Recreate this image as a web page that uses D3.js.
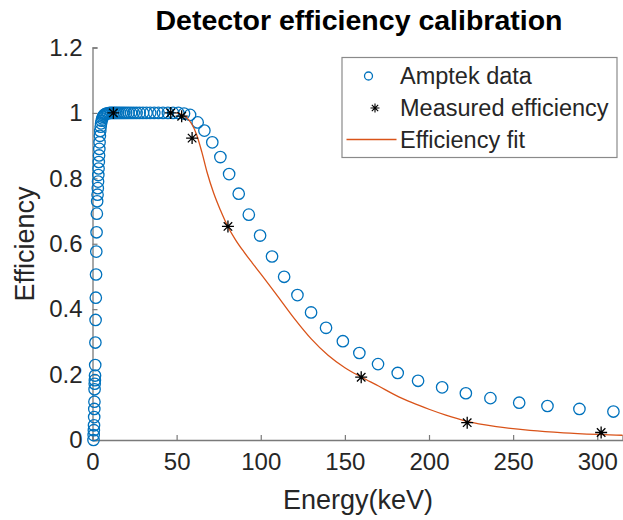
<!DOCTYPE html>
<html>
<head>
<meta charset="utf-8">
<script src="https://cdn.jsdelivr.net/npm/d3@7"></script>
<style>
  html, body { margin: 0; padding: 0; background: #fff; }
  svg { display: block; font-family: "Liberation Sans", Arial, Helvetica, sans-serif; }
</style>
</head>
<body>
<svg id="chart" width="623" height="520"></svg>
<script>
// Amptek datasheet efficiency curve (energy in keV, efficiency 0..1)
const amptekEnergy = [
  0.6, 0.7, 0.8, 0.9, 1.0, 1.07, 1.15, 1.23, 1.31, 1.41, 1.5, 1.61, 1.72, 1.84, 1.97,
  2.11, 2.26, 2.42, 2.59, 2.77, 3.0, 3.15, 3.3, 3.45, 3.6, 3.75, 3.9, 4.05, 4.2, 4.4,
  4.6, 4.85, 5.1, 5.4, 5.8, 6.2, 6.7, 7.2, 7.8, 8.5, 9.3, 10.2, 11.1, 12.1, 13.1,
  14.1, 15.2, 16.3, 17.5, 18.7, 20.0, 21.4, 22.9, 24.5, 26.2, 28.0, 30.0, 32.1, 34.3,
  36.7, 39.2, 41.9, 44.8, 47.9, 51.0, 54.4, 58.0, 62.5, 66.5, 71.2, 76.0, 81.2, 86.9,
  92.9, 99.6, 106.7, 113.9, 121.8, 129.9, 138.8, 148.8, 158.6, 169.7, 181.4, 193.5,
  207.8, 221.9, 236.5, 253.6, 270.4, 289.4, 309.6
];
const amptekEfficiency = [
  0.000, 0.015, 0.030, 0.045, 0.070, 0.095, 0.117, 0.155, 0.172, 0.183, 0.197, 0.229, 0.298, 0.367, 0.435,
  0.506, 0.576, 0.635, 0.692, 0.730, 0.750, 0.770, 0.790, 0.810, 0.830, 0.850, 0.870, 0.890, 0.910, 0.930,
  0.945, 0.958, 0.968, 0.976, 0.983, 0.988, 0.992, 0.995, 0.997, 0.998, 0.999, 1.000, 1.000, 1.000, 1.000,
  1.000, 1.000, 1.000, 1.000, 1.000, 1.000, 1.000, 1.000, 1.000, 1.000, 1.000, 1.000, 1.000, 1.000,
  1.000, 1.000, 1.000, 1.000, 1.000, 1.000, 0.998, 0.994, 0.971, 0.946, 0.910, 0.865, 0.813, 0.753,
  0.689, 0.625, 0.561, 0.499, 0.443, 0.390, 0.343, 0.302, 0.266, 0.232, 0.205, 0.181,
  0.161, 0.143, 0.128, 0.114, 0.104, 0.095, 0.087
];

// Measured calibration lines
const measuredEnergy = [12.4, 46.5, 53.0, 59.2, 80.5, 159.7, 222.7, 302.3];
const measuredEfficiency = [1.000, 1.000, 0.990, 0.923, 0.653, 0.192, 0.053, 0.023];

// Fitted efficiency curve
const fitEnergy = [50, 53, 56, 59, 62, 65, 68, 72, 76, 80.5, 85, 90, 95, 100, 110, 120, 130,
  140, 150, 160, 170, 180, 190, 200, 210, 222, 240, 260, 280, 300, 315];
const fitEfficiency = [1.000, 0.995, 0.985, 0.966, 0.932, 0.880, 0.820, 0.755, 0.703, 0.652,
  0.612, 0.575, 0.541, 0.508, 0.440, 0.371, 0.309, 0.259, 0.221, 0.192, 0.165, 0.137,
  0.114, 0.094, 0.076, 0.058, 0.041, 0.0295, 0.022, 0.0172, 0.0145];

const xTicks = [0, 50, 100, 150, 200, 250, 300];
const yTicks = [0, 0.2, 0.4, 0.6, 0.8, 1.0, 1.2];

const svg = d3.select("#chart");
const plotLeft = 92.5, plotRight = 622.5, plotTop = 47.5, plotBottom = 440;
const x = d3.scaleLinear().domain([0, 315]).range([plotLeft, plotRight]);
const y = d3.scaleLinear().domain([0, 1.2]).range([plotBottom, plotTop]);

const axisColor = "#7a7a7a";
const textColor = "#262626";
const blue = "#0072BD", orange = "#D95319";

// Axes (ticks point inward, box off)
const xAxis = svg.append("g").attr("transform", `translate(0,${plotBottom})`)
  .call(d3.axisBottom(x).tickValues(xTicks).tickSize(-5).tickPadding(13).tickFormat(d3.format("d")));
const yAxis = svg.append("g").attr("transform", `translate(${plotLeft},0)`)
  .call(d3.axisLeft(y).tickValues(yTicks).tickSize(-5).tickPadding(10).tickFormat(d => d3.format("~g")(d)));
[xAxis, yAxis].forEach(g => {
  g.select(".domain").attr("stroke", axisColor).attr("stroke-width", 1.3);
  g.selectAll(".tick line").attr("stroke", axisColor).attr("stroke-width", 1.2);
  g.selectAll(".tick text").attr("fill", textColor).attr("font-size", 24);
});

// Amptek data circles
const amptek = amptekEnergy.map((e, i) => ({ e, v: amptekEfficiency[i] }));
svg.append("g").selectAll("circle").data(amptek).join("circle")
  .attr("cx", d => x(d.e)).attr("cy", d => y(d.v)).attr("r", 5.7)
  .attr("fill", "none").attr("stroke", blue).attr("stroke-width", 1.3);

// Fit curve
const fit = fitEnergy.map((e, i) => ({ e, v: fitEfficiency[i] }));
svg.append("path").datum(fit)
  .attr("d", d3.line().x(d => x(d.e)).y(d => y(d.v)).curve(d3.curveMonotoneX))
  .attr("fill", "none").attr("stroke", orange).attr("stroke-width", 1.3);

// Asterisk marker (plus and cross overlaid)
function asterisk(r) {
  const k = r * Math.SQRT1_2;
  return `M${-r},0L${r},0M0,${-r}L0,${r}M${-k},${-k}L${k},${k}M${-k},${k}L${k},${-k}`;
}
const measured = measuredEnergy.map((e, i) => ({ e, v: measuredEfficiency[i] }));
svg.append("g").selectAll("path").data(measured).join("path")
  .attr("transform", d => `translate(${x(d.e)},${y(d.v)})`)
  .attr("d", asterisk(6)).attr("fill", "none").attr("stroke", "#000").attr("stroke-width", 1.3);

// Title and axis labels
svg.append("text").attr("x", 359).attr("y", 30).attr("text-anchor", "middle")
  .attr("font-size", 28.5).attr("font-weight", "bold").attr("fill", "#000")
  .text("Detector efficiency calibration");
svg.append("text").attr("x", 358).attr("y", 509).attr("text-anchor", "middle")
  .attr("font-size", 27).attr("fill", textColor).text("Energy(keV)");
svg.append("text").attr("transform", "translate(34,244) rotate(-90)").attr("text-anchor", "middle")
  .attr("font-size", 27).attr("fill", textColor).text("Efficiency");

// Legend
const lg = svg.append("g");
lg.append("rect").attr("x", 342).attr("y", 57.5).attr("width", 275).attr("height", 100)
  .attr("fill", "#fff").attr("stroke", "#8a8a8a").attr("stroke-width", 1.2);
const entries = ["Amptek data", "Measured efficiency", "Efficiency fit"];
const rowY = [76, 108, 139.5];
lg.append("circle").attr("cx", 368.5).attr("cy", rowY[0]).attr("r", 4)
  .attr("fill", "none").attr("stroke", blue).attr("stroke-width", 1.3);
lg.append("path").attr("transform", `translate(375,${rowY[1]})`).attr("d", asterisk(4.5))
  .attr("fill", "none").attr("stroke", "#000").attr("stroke-width", 1.1);
lg.append("line").attr("x1", 346.5).attr("x2", 396.5).attr("y1", rowY[2]).attr("y2", rowY[2])
  .attr("stroke", orange).attr("stroke-width", 1.3);
entries.forEach((t, i) => {
  lg.append("text").attr("x", 400).attr("y", rowY[i]).attr("dy", "0.36em")
    .attr("font-size", 23.5).attr("fill", textColor).text(t);
});
</script>
</body>
</html>
